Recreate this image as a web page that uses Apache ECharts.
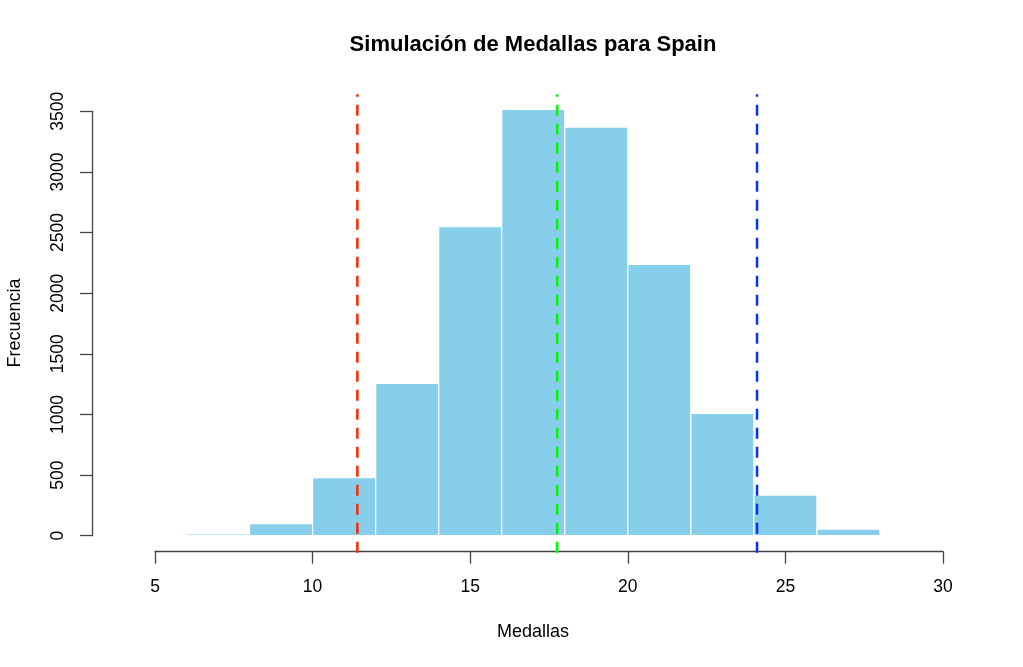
<!DOCTYPE html>
<html>
<head>
<meta charset="utf-8">
<script src="https://cdn.jsdelivr.net/npm/echarts@6/dist/echarts.min.js"></script>
<style>
  html, body { margin: 0; padding: 0; background: #fff; }
  #chart { width: 1023px; height: 667px; }
</style>
</head>
<body>
<div id="chart"></div>
<script>
// Histograma de medallas simuladas (Spain)
const binEdges = [6, 8, 10, 12, 14, 16, 18, 20, 22, 24, 26, 28];
const counts = [14, 100, 478, 1257, 2548, 3516, 3370, 2238, 1009, 335, 55];
const xTicks = [5, 10, 15, 20, 25, 30];
const yTicks = [0, 500, 1000, 1500, 2000, 2500, 3000, 3500];
// lineas verticales: inferior, media, superior
const refLines = [11.42, 17.76, 24.1];
const refColors = ['#FF2600', '#00F900', '#0433FF'];
// rango del area de dibujo (con la extension de R)
const plotYRange = [-140, 3640];

const font = 'Liberation Sans, Arial, Helvetica, sans-serif';

const histData = counts.map((c, i) => [binEdges[i], binEdges[i + 1], c]);

const chart = echarts.init(document.getElementById('chart'));

const lineSeries = refLines.map((v, i) => ({
    type: 'line',
    clip: false,
    symbol: 'none',
    silent: true,
    z: 5,
    data: [[v, plotYRange[0]], [v, plotYRange[1]]],
    lineStyle: { color: refColors[i], width: 2.5, type: [11, 8] }
}));

chart.setOption({
    animation: false,
    grid: { left: 155, right: 80, top: 111.3, bottom: 131.3 },
    graphic: [
        {
            type: 'text', x: 533, y: 45,
            style: {
                text: 'Simulación de Medallas para Spain',
                font: 'bold 22px ' + font, fill: '#000',
                textAlign: 'center', textVerticalAlign: 'middle'
            }
        },
        {
            type: 'text', x: 533, y: 632,
            style: {
                text: 'Medallas', font: '18px ' + font, fill: '#000',
                textAlign: 'center', textVerticalAlign: 'middle'
            }
        },
        {
            type: 'text', x: 15, y: 323, rotation: Math.PI / 2,
            style: {
                text: 'Frecuencia', font: '18px ' + font, fill: '#000',
                textAlign: 'center', textVerticalAlign: 'middle'
            }
        }
    ],
    xAxis: {
        type: 'value',
        min: xTicks[0],
        max: xTicks[xTicks.length - 1],
        interval: xTicks[1] - xTicks[0],
        offset: 16,
        splitLine: { show: false },
        axisLine: { onZero: false, lineStyle: { color: '#444', width: 1.3 } },
        axisTick: { length: 12, lineStyle: { color: '#444', width: 1.3 } },
        axisLabel: { fontSize: 17.5, fontFamily: font, color: '#000', margin: 26 }
    },
    yAxis: {
        type: 'value',
        min: yTicks[0],
        max: yTicks[yTicks.length - 1],
        interval: yTicks[1] - yTicks[0],
        offset: 63,
        splitLine: { show: false },
        axisLine: { show: true, onZero: false, lineStyle: { color: '#444', width: 1.3 } },
        axisTick: { show: true, length: 12, lineStyle: { color: '#444', width: 1.3 } },
        axisLabel: {
            fontSize: 17.5, fontFamily: font, color: '#000', margin: 25, rotate: 90,
            formatter: v => String(v)
        }
    },
    series: [
        {
            type: 'custom',
            data: histData,
            encode: { x: [0, 1], y: 2 },
            renderItem: function (params, api) {
                const p0 = api.coord([api.value(0), api.value(2)]);
                const p1 = api.coord([api.value(1), 0]);
                return {
                    type: 'rect',
                    shape: { x: p0[0], y: p0[1], width: p1[0] - p0[0], height: p1[1] - p0[1] },
                    style: { fill: '#87CEEB', stroke: '#fff', lineWidth: 1.2 }
                };
            }
        }
    ].concat(lineSeries)
});

window.addEventListener('resize', () => chart.resize());
</script>
</body>
</html>
